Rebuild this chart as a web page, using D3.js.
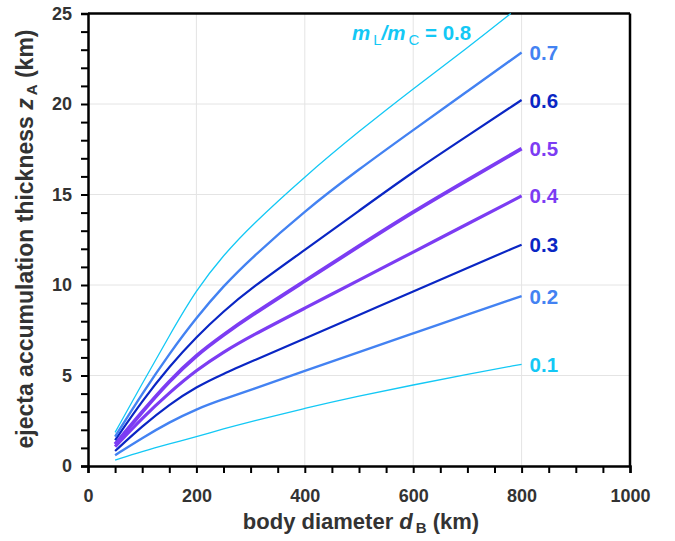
<!DOCTYPE html>
<html>
<head>
<meta charset="utf-8">
<script src="https://cdn.jsdelivr.net/npm/d3@7"></script>
<style>
  html, body { margin: 0; padding: 0; background: #fff; }
  svg { display: block; font-family: "Liberation Sans", Arial, sans-serif; }
</style>
</head>
<body>
<svg id="chart" width="675" height="541"></svg>
<script>
// ---- data ----
const diameters = [50, 100, 150, 200, 250, 300, 400, 500, 600, 700, 800];
const ratios = ["0.1", "0.2", "0.3", "0.4", "0.5", "0.6", "0.7", "0.8"];
const z01 = [0.33, 0.80, 1.22, 1.62, 2.05, 2.45, 3.19, 3.87, 4.48, 5.06, 5.62];
const z02 = [0.60, 1.55, 2.42, 3.15, 3.70, 4.20, 5.25, 6.30, 7.33, 8.36, 9.39];
const z03 = [0.83, 2.20, 3.40, 4.38, 5.10, 5.75, 7.05, 8.35, 9.63, 10.95, 12.23];
const z04 = [1.07, 2.65, 4.05, 5.30, 6.30, 7.17, 8.72, 10.27, 11.82, 13.37, 14.92];
const z05 = [1.20, 3.00, 4.70, 6.13, 7.25, 8.30, 10.22, 12.15, 14.05, 15.80, 17.53];
const z06 = [1.43, 3.60, 5.50, 7.14, 8.55, 9.80, 11.94, 14.10, 16.26, 18.24, 20.22];
const z07 = [1.62, 4.00, 6.20, 8.20, 9.95, 11.45, 14.10, 16.40, 18.56, 20.70, 22.85];
const diameters08 = [50, 100, 150, 200, 250, 300, 400, 500, 600, 700, 780];
const z08 = [1.86, 4.55, 7.20, 9.75, 11.65, 13.25, 16.00, 18.50, 20.85, 23.10, 25.0];
const xTicks = [0, 200, 400, 600, 800, 1000];
const yTicks = [0, 5, 10, 15, 20, 25];

// ---- styling ----
const series = [
  {r: "0.1", x: diameters, y: z01, color: "#13c8f5", w: 1.3},
  {r: "0.2", x: diameters, y: z02, color: "#4382f2", w: 2.4},
  {r: "0.3", x: diameters, y: z03, color: "#0a26c4", w: 2.2},
  {r: "0.4", x: diameters, y: z04, color: "#7c3cf3", w: 3.2},
  {r: "0.5", x: diameters, y: z05, color: "#7c3cf3", w: 3.8},
  {r: "0.6", x: diameters, y: z06, color: "#0a26c4", w: 2.2},
  {r: "0.7", x: diameters, y: z07, color: "#4382f2", w: 2.4},
  {r: "0.8", x: diameters08, y: z08, color: "#13c8f5", w: 1.3}
];

const svg = d3.select("#chart");
const L = 88, R = 630, T = 13.5, B = 466;
const x = d3.scaleLinear().domain([0, 1000]).range([L, R]);
const y = d3.scaleLinear().domain([0, 25]).range([B, T]);

// gridlines
const grid = svg.append("g");
grid.selectAll(".gx").data(xTicks.slice(1, -1)).enter().append("line")
  .attr("x1", d => x(d)).attr("x2", d => x(d)).attr("y1", T).attr("y2", B)
  .attr("stroke", "#e4e4e4").attr("stroke-width", 1);
grid.selectAll(".gy").data(yTicks.slice(1, -1)).enter().append("line")
  .attr("y1", d => y(d)).attr("y2", d => y(d)).attr("x1", L).attr("x2", R)
  .attr("stroke", "#e4e4e4").attr("stroke-width", 1);

// frame (top/right)
svg.append("line").attr("x1", L).attr("x2", R).attr("y1", T).attr("y2", T)
  .attr("stroke", "#000").attr("stroke-width", 2.5);
svg.append("line").attr("x1", R).attr("x2", R).attr("y1", T).attr("y2", B)
  .attr("stroke", "#000").attr("stroke-width", 2.5);

// lines
const line = d3.line().x(d => x(d[0])).y(d => y(d[1])).curve(d3.curveBasis);
const lg = svg.append("g");
series.forEach(s => {
  const pts = s.x.map((v, i) => [v, s.y[i]]);
  lg.append("path").datum(pts).attr("d", line)
    .attr("fill", "none").attr("stroke", s.color).attr("stroke-width", s.w)
    .attr("stroke-linejoin", "round").attr("stroke-linecap", "butt");
});

// series labels
const lab = svg.append("g").attr("font-weight", "bold").attr("font-size", 20.5);
series.forEach(s => {
  if (s.r === "0.8") return;
  const n = s.x.length - 1;
  lab.append("text").attr("x", x(s.x[n]) + 8).attr("y", y(s.y[n]) + 7.5)
    .attr("fill", s.color).text(s.r);
});
const s8 = series[7];
const t8 = lab.append("text").attr("x", 352).attr("y", 40).attr("fill", s8.color).attr("font-size", 20.5);
t8.append("tspan").attr("font-style", "italic").text("m");
t8.append("tspan").attr("font-size", 15).attr("font-weight", "normal").attr("dy", 5).attr("dx", 3).text("L");
t8.append("tspan").attr("dy", -5).attr("font-style", "italic").text("/m");
t8.append("tspan").attr("font-size", 15).attr("font-weight", "normal").attr("dy", 5).attr("dx", 3).text("C");
t8.append("tspan").attr("dy", -5).text(" = 0.8");

// axes
const tickColor = "#000";
const xAxis = svg.append("g").attr("transform", `translate(0,${B})`)
  .call(d3.axisBottom(x).tickValues(xTicks).tickSize(7).tickPadding(16).tickFormat(d3.format("d")));
const xMinor = svg.append("g").attr("transform", `translate(0,${B})`)
  .call(d3.axisBottom(x).tickValues(d3.range(50, 1000, 50).filter(v => v % 200 !== 0)).tickSize(7).tickFormat(""));
const yAxis = svg.append("g").attr("transform", `translate(${L},0)`)
  .call(d3.axisLeft(y).tickValues(yTicks).tickSize(7).tickPadding(9).tickFormat(d3.format("d")));
const yMinor = svg.append("g").attr("transform", `translate(${L},0)`)
  .call(d3.axisLeft(y).tickValues(d3.range(1, 25, 1).filter(v => v % 5 !== 0)).tickSize(7).tickFormat(""));
[xMinor, yMinor].forEach(g => g.select(".domain").remove());
[xAxis, yAxis].forEach(g => g.select(".domain").attr("stroke", "#000").attr("stroke-width", 2.5));
[xAxis, yAxis, xMinor, yMinor].forEach(g => {
  g.selectAll(".tick line").attr("stroke", tickColor).attr("stroke-width", 2);
  g.selectAll(".tick text").attr("font-size", 18).attr("font-weight", "bold")
    .attr("fill", "#333").attr("font-family", "'Liberation Sans', Arial, sans-serif");
});

// axis titles
const xt = svg.append("text").attr("x", 361).attr("y", 529).attr("text-anchor", "middle")
  .attr("font-size", 22).attr("font-weight", "bold").attr("fill", "#333");
xt.append("tspan").text("body diameter ");
xt.append("tspan").attr("font-style", "italic").text("d");
xt.append("tspan").attr("font-size", 15).attr("dy", 4).attr("dx", 3).text("B");
xt.append("tspan").attr("dy", -4).text(" (km)");

const yt = svg.append("text").attr("transform", "translate(33,239) rotate(-90)").attr("text-anchor", "middle")
  .attr("font-size", 23).attr("font-weight", "bold").attr("fill", "#333");
yt.append("tspan").text("ejecta accumulation thickness  ");
yt.append("tspan").attr("font-style", "italic").text("z");
yt.append("tspan").attr("font-size", 15).attr("dy", 4).attr("dx", 3).text("A");
yt.append("tspan").attr("dy", -4).text(" (km)");
</script>
</body>
</html>
